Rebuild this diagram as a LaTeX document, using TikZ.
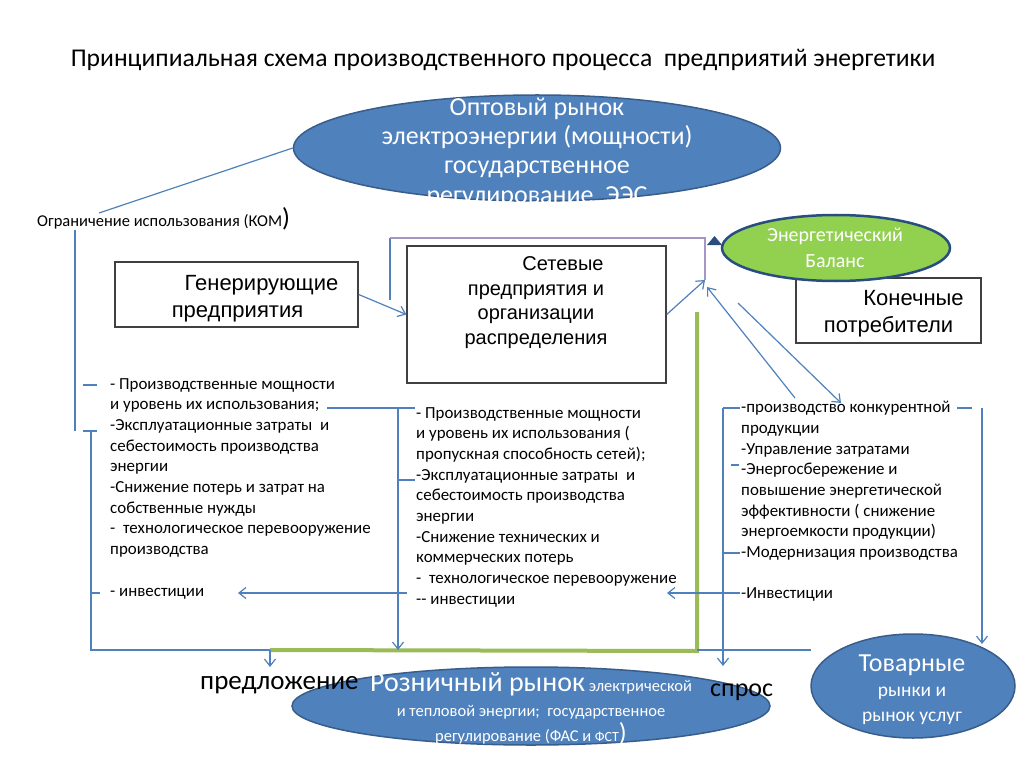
\documentclass[tikz,border=0pt]{standalone}
\usepackage{fontspec}
\setmainfont{Carlito}
\newfontfamily\boxfont{Liberation Sans}
\usetikzlibrary{shapes.geometric,arrows.meta}

\definecolor{lineblue}{RGB}{79,129,189}
\definecolor{ellborder}{RGB}{56,93,138}
\definecolor{linegreen}{RGB}{155,187,89}
\definecolor{balgreen}{RGB}{146,208,80}
\definecolor{balborder}{RGB}{40,78,128}
\definecolor{framelilac}{RGB}{165,150,195}
\definecolor{boxgray}{RGB}{64,64,64}

\tikzset{
    conn/.style={draw=lineblue, line width=1.2pt},
    arr/.style={conn, -{Straight Barb[length=7pt,width=11pt]}},
    greenline/.style={draw=linegreen, line width=4pt},
    box/.style={draw=boxgray, line width=1.3pt, fill=white, inner sep=0pt},
    bluell/.style={ellipse, draw=ellborder, line width=1.5pt, fill=lineblue, inner sep=0pt},
    greenell/.style={ellipse, draw=balborder, line width=2.5pt, fill=balgreen, inner sep=0pt},
    elltext/.style={inner sep=0pt, align=center, text=white},
    boxtext/.style={inner sep=0pt, align=center, font=\boxfont\fontsize{22}{27}\selectfont},
    ltext/.style={inner sep=0pt, align=left, font=\fontsize{16.9}{20.7}\selectfont}
}

\begin{document}
\begin{tikzpicture}[x=1pt,y=-1pt]
    \fill[white] (0,0) rectangle (1024,767);
    \useasboundingbox (0,0) rectangle (1024,767);
    \node[anchor=base, font=\fontsize{25.6}{30}\selectfont] (title) at (503,67)
        {Принципиальная схема производственного процесса~ предприятий энергетики};
    %draw boxes and ellipses
    \node[bluell, minimum width=487pt, minimum height=106pt] (opt) at (537,148) {};
    \node[box, minimum width=185pt, minimum height=65pt] (cons) at (888.5,310.5) {};
    \node[greenell, minimum width=228pt, minimum height=66pt] (bal) at (836,248) {};
    \node[box, minimum width=243pt, minimum height=65pt] (gen) at (236.5,294.5) {};
    \node[box, minimum width=259pt, minimum height=137pt] (net) at (536.5,314.5) {};
    \node[bluell, minimum width=478pt, minimum height=78pt] (retail) at (531,706) {};
    \node[bluell, minimum width=204pt, minimum height=104pt] (goods) at (913,686) {};
    %texts in shapes
    \node[elltext, font=\fontsize{26}{29.3}\selectfont] (opttxt) at (537,152.5)
        {Оптовый рынок\\электроэнергии (мощности)\\государственное\\регулирование~ ЭЭС};
    \node[elltext, font=\fontsize{20}{26}\selectfont] (baltxt) at (835,248) {Энергетический\\Баланс};
    \node[boxtext] (gentxt) at (237.5,299) {\hspace*{48pt}Генерирующие\\предприятия};
    \node[boxtext, font=\boxfont\fontsize{20}{24.7}\selectfont] (nettxt) at (536,302.5)
        {\hspace*{54pt}Сетевые\\предприятия и\\организации\\распределения};
    \node[boxtext] (constxt) at (888.5,314) {\hspace*{50pt}Конечные\\потребители};
    \node[elltext, font=\fontsize{16.5}{25}\selectfont] (retailtxt) at (531,709)
        {{\fontsize{28}{28}\selectfont Розничный рынок} электрической\\и тепловой энергии;~ государственное\\регулирование (ФАС и {\fontsize{14}{14}\selectfont ФСТ}{\fontsize{26}{26}\selectfont )}};
    \node[elltext, font=\fontsize{19.5}{25}\selectfont] (goodstxt) at (912,690)
        {{\fontsize{26}{26}\selectfont Товарные}\\рынки и\\рынок услуг};
    %labels
    \node[ltext, anchor=base west, font=\fontsize{16.5}{20}\selectfont] (lim) at (37,226)
        {Ограничение использования (КОМ{\fontsize{26}{26}\selectfont )}};
    \node[anchor=base west, inner sep=0pt, font=\fontsize{27}{30}\selectfont] (supply) at (200,689) {предложение};
    \node[anchor=base west, inner sep=0pt, font=\fontsize{26}{30}\selectfont] (demand) at (710,696) {спрос};
    \node[ltext, anchor=north west] (genlist) at (110,378)
        {- Производственные мощности\\и уровень их использования;\\-Эксплуатационные затраты~ и\\себестоимость производства\\энергии\\-Снижение потерь и затрат на\\собственные нужды\\-~ технологическое перевооружение\\производства\\[20.7pt]- инвестиции};
    \node[ltext, anchor=north west] (netlist) at (416,407)
        {- Производственные мощности\\и уровень их использования (\\пропускная способность сетей);\\-Эксплуатационные затраты~ и\\себестоимость производства\\энергии\\-Снижение технических и\\коммерческих потерь\\-~ технологическое перевооружение\\-{}- инвестиции};
    \node[ltext, anchor=north west] (conslist) at (741,401)
        {-производство конкурентной\\продукции\\-Управление затратами\\-Энергосбережение и\\повышение энергетической\\эффективности ( снижение\\энергоемкости продукции)\\-Модернизация производства\\[20.7pt]-Инвестиции};
    %points for lines
    \coordinate (limtop) at (99,213);
    \coordinate (l1) at (75,230);
    \coordinate (l2) at (75,431);
    \coordinate (l3) at (91,431);
    \coordinate (l4) at (91,650);
    \coordinate (s1) at (270,650);
    \coordinate (s2) at (270,667);
    \coordinate (m1) at (327,408);
    \coordinate (m2) at (398,408);
    \coordinate (m3) at (398,650);
    \coordinate (r1) at (723,408);
    \coordinate (r2) at (723,666);
    \coordinate (f1) at (982,408);
    \coordinate (f2) at (982,644);
    \coordinate (jn) at (705,280);
    %draw lines
    \draw[greenline] (697,312) -- (697,651) -- (s1);
    \draw[conn] (opt.west) -- (limtop);
    \draw[conn] (l1) -- (l2);
    \draw[conn] (l3) -- (l4) -- (s1);
    \draw[arr] (s1) -- (s2);
    \foreach \y in {385,431}
        \draw[conn] (83,\y) -- ++(14,0);
    \draw[conn] (l4 |- 0,593) -- ++(9,0);
    \draw[conn] (m1) -- (415,408);
    \draw[arr] (m2) -- (m3);
    \draw[conn] (398,480) -- ++(17,0);
    \draw[arr] (407,593) -- (238,593);
    \foreach \y in {408,553}
        \draw[conn] (723,\y) -- ++(17,0);
    \draw[conn] (731,465) -- ++(8,0);
    \draw[arr] (r1) -- (r2);
    \draw[arr] (740,593) -- (667,593);
    \draw[conn] (697,650) -- (811,650);
    \draw[conn] (957,408) -- (972,408);
    \draw[arr] (f1) -- (f2);
    \draw[conn] (390,300) -- (390,238);
    \draw[draw=framelilac, line width=1.2pt] (390,238) -- (705,238) -- (jn);
    \fill[balborder] (707,245) -- (722,245) -- (714.5,236) -- cycle;
    \draw[arr] (gen.east) -- (net.west);
    \draw[arr] (net.east) -- (jn);
    \draw[arr] (795,398) -- (707,287);
    \draw[arr] (738,303) -- (841,403);
\end{tikzpicture}
\end{document}
